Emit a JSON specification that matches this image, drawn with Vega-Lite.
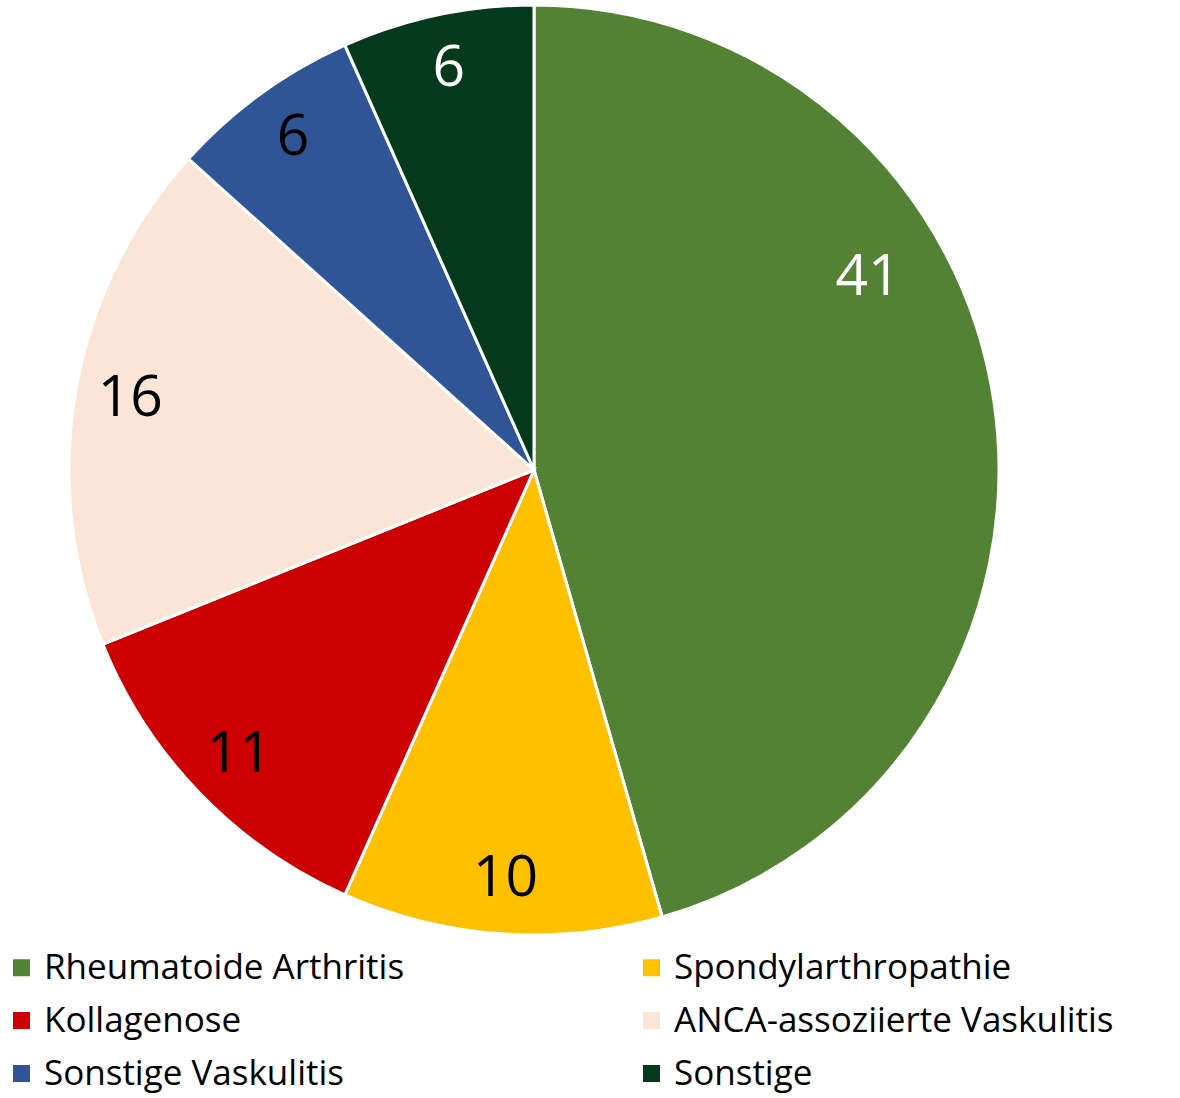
{
  "$schema": "https://vega.github.io/schema/vega-lite/v6.json",
  "width": 1068,
  "height": 940,
  "padding": {"left": 0, "top": 0, "right": 112, "bottom": 158},
  "autosize": {"type": "none"},
  "background": "white",
  "config": {"view": {"stroke": null}, "font": "Open Sans"},
  "data": {
    "values": [
      {"category": "Rheumatoide Arthritis", "value": 41, "order": 1},
      {"category": "Spondylarthropathie", "value": 10, "order": 2},
      {"category": "Kollagenose", "value": 11, "order": 3},
      {"category": "ANCA-assoziierte Vaskulitis", "value": 16, "order": 4},
      {"category": "Sonstige Vaskulitis", "value": 6, "order": 5},
      {"category": "Sonstige", "value": 6, "order": 6}
    ]
  },
  "encoding": {
    "theta": {"field": "value", "type": "quantitative", "stack": true},
    "order": {"field": "order", "type": "quantitative", "sort": "ascending"}
  },
  "layer": [
    {
      "mark": {"type": "arc", "outerRadius": 465, "stroke": "white", "strokeWidth": 3},
      "encoding": {
        "color": {
          "field": "category",
          "type": "nominal",
          "scale": {
            "domain": ["Rheumatoide Arthritis", "Spondylarthropathie", "Kollagenose", "ANCA-assoziierte Vaskulitis", "Sonstige Vaskulitis", "Sonstige"],
            "range": ["#548235", "#FFC000", "#CC0000", "#FBE5D6", "#2F5597", "#033A1C"]
          },
          "legend": {
            "orient": "none",
            "legendX": 4,
            "legendY": 950,
            "direction": "horizontal",
            "title": null,
            "columns": 2,
            "columnPadding": 229,
            "rowPadding": 17,
            "symbolType": "square",
            "symbolSize": 289,
            "symbolStrokeWidth": 0,
            "labelFont": "Open Sans",
            "labelFontSize": 35,
            "labelColor": "black",
            "labelOffset": 5,
            "labelLimit": 700,
            "padding": 0
          }
        }
      }
    },
    {
      "mark": {"type": "text", "radius": 410, "fontSize": 57, "font": "Open Sans", "align": "center", "baseline": "middle"},
      "encoding": {
        "text": {"field": "value", "type": "quantitative"},
        "color": {
          "condition": {"test": "datum.category === 'Sonstige'", "value": "white"},
          "value": "black"
        },
        "opacity": {
          "condition": {"test": "datum.category === 'Rheumatoide Arthritis'", "value": 0},
          "value": 1
        }
      }
    },
    {
      "mark": {"type": "text", "radius": 410, "fontSize": 57, "font": "Open Sans", "align": "center", "baseline": "middle", "dx": -72, "dy": -135, "color": "white"},
      "encoding": {
        "text": {"field": "value", "type": "quantitative"},
        "opacity": {
          "condition": {"test": "datum.category === 'Rheumatoide Arthritis'", "value": 1},
          "value": 0
        }
      }
    }
  ]
}
